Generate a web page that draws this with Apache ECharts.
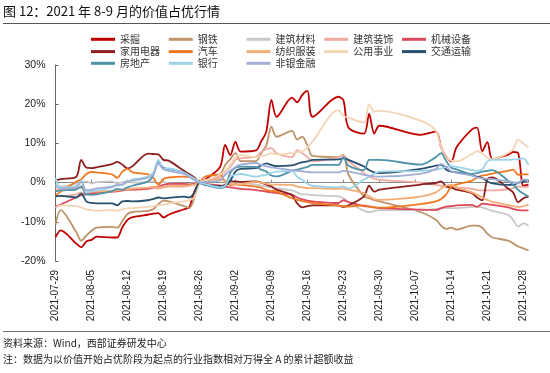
<!DOCTYPE html>
<html><head><meta charset="utf-8">
<script src="https://cdn.jsdelivr.net/npm/echarts@6/dist/echarts.min.js"></script>
<style>html,body{margin:0;padding:0;background:#fff}#c{width:550px;height:373px}</style>
</head><body><div id="c"></div>
<script>
// Trading dates
const dates = ['2021-07-29','2021-07-30','2021-08-02','2021-08-03','2021-08-04','2021-08-05','2021-08-06',
'2021-08-09','2021-08-10','2021-08-11','2021-08-12','2021-08-13','2021-08-16','2021-08-17','2021-08-18','2021-08-19','2021-08-20',
'2021-08-23','2021-08-24','2021-08-25','2021-08-26','2021-08-27','2021-08-30','2021-08-31','2021-09-01','2021-09-02','2021-09-03',
'2021-09-06','2021-09-07','2021-09-08','2021-09-09','2021-09-10','2021-09-13','2021-09-14','2021-09-15','2021-09-16','2021-09-17',
'2021-09-22','2021-09-23','2021-09-24','2021-09-27','2021-09-28','2021-09-29','2021-09-30','2021-10-08',
'2021-10-11','2021-10-12','2021-10-13','2021-10-14','2021-10-15','2021-10-18','2021-10-19','2021-10-20','2021-10-21','2021-10-22',
'2021-10-25','2021-10-26','2021-10-27','2021-10-28','2021-10-29'];

const seriesNames = ['采掘','钢铁','建筑材料','建筑装饰','机械设备','家用电器','汽车','纺织服装','公用事业','交通运输','房地产','银行','非银金融'];

const caijue = [-14.0,-12.2,-15.5,-16.5,-15.0,-14.6,-13.8,-14.0,-14.0,-11.4,-9.5,-8.8,-8.2,-7.9,-7.8,-8.9,-8.2,-6.8,-6.3,-2.3,0,
0.7,4.0,9.6,7.0,10.4,7.9,8.2,10.5,13.0,21.1,16.8,21.7,20.5,22.4,23.4,16.8,21.9,21.0,14.0,12.5,17.5,12.5,14.5,12.2,
13.0,9.0,6.6,5.4,9.0,13.6,14.0,8.0,10.3,6.0,7.1,7.8,7.5,-0.8,-0.5];
const gangtie = [-10.8,-7.0,-12.5,-14.8,-13.5,-12.3,-11.5,-11.3,-11.5,-9.8,-8.0,-7.5,-7.2,-6.8,-5.5,-4.6,-4.8,-6.0,-6.5,-4.0,0,
0.3,2.0,4.5,6.0,7.5,5.5,5.5,7.5,9.5,14.3,11.7,13.2,11.0,11.7,9.5,6.8,6.5,7.0,2.0,-3.5,-4.0,-4.5,-4.8,-7.5,
-9.5,-11.0,-11.8,-11.5,-12.0,-11.0,-11.0,-11.5,-13.0,-14.0,-14.8,-15.5,-16.3,-16.8,-17.3];
const jiancai = [-0.5,-1.0,-0.3,0.2,0.3,-0.2,0.1,0.3,-0.2,0.1,0.4,0.0,0.2,0.3,-0.3,0.1,-0.2,-0.4,-0.3,-0.2,0,
0.5,1.0,0.5,0.0,0.3,0.0,-0.5,-0.8,-1.0,-1.2,-1.5,-2.0,-2.5,-3.0,-3.0,-3.2,-3.5,-4.0,-5.0,-7.2,-7.5,-7.3,-7.0,-7.0,
-6.7,-6.6,-6.5,-6.5,-6.5,-6.2,-6.1,-6.3,-6.8,-7.2,-8.2,-9.5,-11.2,-10.4,-11.0];
const jianzhuang = [-3.3,-3.5,-3.0,-2.5,-2.7,-2.6,-2.4,-2.2,-2.3,-2.0,-1.8,-1.9,-1.6,-1.4,-1.5,-1.2,-1.0,-1.0,-0.8,-0.5,0,
0.5,1.5,2.8,4.0,5.8,6.2,6.6,7.8,8.5,8.8,7.5,6.5,8.3,7.5,6.5,5.4,6.5,7.0,5.5,2.4,1.5,1.0,0.7,0.0,
-0.6,-0.8,-1.0,-1.0,-1.2,-1.6,-1.9,-2.0,-2.0,-2.0,-1.7,-1.4,-1.0,-1.1,-1.2];
const jixie = [-6.2,-5.6,-3.8,-3.2,-3.0,-2.8,-2.6,-2.3,-2.2,-2.0,-1.8,-1.7,-1.5,-1.2,-1.0,-0.6,-0.3,-0.3,-0.5,-0.3,0,
-0.3,-0.7,-1.0,-1.2,-1.4,-1.6,-1.9,-2.1,-2.3,-2.5,-2.7,-3.1,-3.8,-4.3,-4.6,-4.8,-5.2,-4.5,-5.0,-6.0,-6.1,-6.3,-6.5,-6.9,
-7.0,-6.5,-6.1,-6.0,-5.8,-5.7,-6.2,-5.4,-5.5,-5.7,-6.3,-6.7,-7.0,-7.1,-7.1];
const jiadian = [0.6,0.9,1.4,5.8,3.8,3.7,3.9,4.7,5.3,4.6,3.6,4.2,7.4,7.3,7.2,5.8,5.6,3.0,2.2,1.3,0,
-0.5,-1.0,-0.5,0.3,0.3,0.2,0.3,0.0,-0.5,-1.0,-1.8,-3.2,-5.3,-6.3,-6.0,-5.8,-5.8,-6.2,-5.8,-3.5,-0.8,-2.3,-1.8,-0.5,
-0.1,0.3,-1.0,-1.3,-1.8,-2.7,-3.8,-4.5,0.8,1.3,-1.5,-2.5,-5.0,-4.0,-3.6];
const qiche = [-3.4,-2.3,0.2,0.8,2.2,2.7,2.6,2.1,1.2,2.8,3.5,2.6,2.1,1.2,-0.5,1.0,1.3,1.5,1.4,1.0,0,
1.5,2.0,0.2,-0.6,-0.4,-0.6,-1.0,-1.3,-1.9,-2.1,-2.3,-4.0,-4.4,-4.7,-5.0,-5.2,-5.9,-6.0,-6.1,-5.8,-6.1,-6.3,-6.4,-5.5,
-4.8,-4.2,-3.0,-1.0,-0.5,0.5,1.3,1.8,2.0,2.3,3.0,3.3,2.0,2.1,2.1];
const fangzhi = [-1.8,-2.0,-1.5,-1.3,-2.0,-2.2,-2.3,-2.2,-2.0,-1.8,-1.7,-1.5,-1.3,-1.1,-1.2,-1.0,-0.9,-0.8,-0.7,-0.5,0,
0.5,0.8,0.3,-0.3,-0.6,-0.4,0.2,0.0,-0.3,-0.5,-0.5,-0.6,-1.0,-1.2,-1.4,-1.4,-1.6,-1.5,-1.8,-2.7,-3.5,-4.2,-4.4,-3.6,
-2.5,-1.5,-0.8,-0.6,-1.2,-2.5,-3.1,-3.8,-4.4,-4.9,-5.7,-6.0,-6.2,-6.0,-5.7];
const gongyong = [-6.5,-5.8,-6.0,-6.3,-6.8,-7.0,-7.2,-7.0,-7.2,-6.8,-6.6,-6.5,-6.2,-6.0,-5.8,-5.6,-5.3,-4.8,-4.5,-3.8,0,
0.5,2.0,3.0,4.5,6.5,7.0,6.5,6.8,7.0,7.5,7.2,7.5,7.8,8.0,9.0,10.5,18.5,17.0,16.5,15.3,20.0,18.1,18.3,15.8,
13.2,9.0,6.5,5.6,5.4,7.3,8.0,7.5,6.2,6.0,7.5,8.5,10.9,10.0,9.0];
const jiaotong = [-3.5,-3.4,-3.8,-2.8,-4.8,-5.2,-5.3,-5.3,-5.8,-4.8,-4.7,-4.8,-4.5,-4.2,-3.8,-4.0,-3.9,-3.6,-3.8,-2.6,0,
-0.4,-1.0,-0.8,0.5,2.8,3.5,3.7,4.4,4.9,4.5,4.2,4.4,4.8,5.2,5.4,5.8,5.9,6.2,5.8,4.1,3.2,2.6,2.4,3.5,
4.3,4.6,3.3,2.8,2.6,1.9,1.5,1.2,0.3,-0.2,-0.6,-0.6,0.0,0.3,0.6];
const fangdichan = [-2.3,-2.0,-1.8,-1.0,-3.0,-3.1,-3.0,-2.2,-1.6,-1.8,-1.2,-0.8,0.3,1.8,5.2,3.8,3.5,2.6,1.8,0.8,0,
-0.5,-1.4,-1.0,2.5,3.8,4.1,4.0,3.3,2.8,1.8,1.6,3.0,3.3,3.6,4.0,4.5,4.5,6.5,4.3,3.2,5.8,5.8,5.8,4.6,
6.5,7.5,5.5,3.8,3.4,2.2,2.4,2.8,3.0,3.2,0.5,-0.5,-1.9,-2.8,-3.6];
const yinhang = [1.2,-1.2,-1.0,0.5,-2.5,-2.2,-2.0,-1.2,-0.8,-0.6,0.2,0.8,1.5,2.5,5.8,3.5,3.6,2.5,1.8,1.0,0,
-0.3,-1.2,-0.8,1.5,2.0,2.2,1.5,1.8,2.0,2.5,2.8,3.0,1.5,0.7,-0.3,-0.8,-1.2,-1.0,-1.5,0.8,1.5,2.3,2.8,3.0,
3.3,3.6,4.0,4.2,4.0,3.2,3.0,3.4,5.4,5.8,5.8,5.9,6.0,6.2,4.5];
const feiyin = [-1.0,-1.5,-1.2,0.2,-2.0,-1.8,-1.5,-1.0,-0.6,-0.5,0.3,0.5,1.2,2.0,4.8,3.4,3.0,2.2,1.5,0.6,0,
0.2,0.5,2.0,3.0,4.0,4.6,5.0,4.5,4.2,3.9,3.7,3.2,3.0,2.9,2.7,2.6,2.6,3.0,2.8,2.0,1.8,1.6,1.5,2.2,
3.5,4.8,4.0,2.9,2.5,1.8,1.3,1.1,1.0,0.9,0.3,0.1,-0.2,0.8,0.5];

const yTicks = [-20,-10,0,10,20,30];

const allValues = [caijue,gangtie,jiancai,jianzhuang,jixie,jiadian,qiche,fangzhi,gongyong,jiaotong,fangdichan,yinhang,feiyin];
const colors = ['#C00000','#BE9468','#C8C8C8','#F0AAA0','#DE4A5C','#8E1F1F','#F07820','#F5AD75','#F3D5B5','#27506E','#4E93A8','#9DD3E8','#A2AED6'];

const DAY = 86400000;
const base = Date.UTC(2021,6,29);
const off = dates.map(d => { const p = d.split('-'); return Math.round((Date.UTC(+p[0], +p[1]-1, +p[2]) - base) / DAY); });
const maxOff = off[off.length-1];

const fam = '"Liberation Sans", Arial, sans-serif';
const cjk = '"Noto Sans CJK SC", sans-serif';

const chart = echarts.init(document.getElementById('c'), null, {renderer:'canvas'});
const legendRows = [seriesNames.slice(0,5), seriesNames.slice(5,10), seriesNames.slice(10)];
const legendTops = [33.3, 45.6, 57.3];

chart.setOption({
  animation: false,
  backgroundColor: '#fff',
  title: {
    text: '图 12：2021 年 8-9 月的价值占优行情',
    left: 3, top: 5, padding: 0,
    textStyle: {fontSize: 13, fontWeight: 'normal', color: '#111', fontFamily: cjk}
  },
  legend: legendRows.map((row, r) => ({
    data: row, left: 91, top: legendTops[r], orient: 'horizontal',
    icon: 'rect', itemWidth: 24, itemHeight: 3, itemGap: 2.75, selectedMode: false,
    padding: 0,
    textStyle: {fontSize: 10, color: '#333', fontFamily: cjk, width: 46, lineHeight: 12}
  })),
  grid: {left: 55.5, right: 21.5, top: 65, bottom: 112, containLabel: false},
  xAxis: [{
    type: 'value', min: 0, max: maxOff, interval: 7, position: 'bottom',
    axisLine: {show: false, onZero: false}, axisTick: {show: false}, splitLine: {show: false},
    axisLabel: {rotate: 90, fontSize: 10, margin: 9, color: '#222', fontFamily: fam,
      formatter: v => (v % 7 === 0) ? new Date(base + v*DAY).toISOString().slice(0,10) : ''}
  }, {
    type: 'value', min: 0, max: maxOff, interval: 7, position: 'bottom',
    axisLine: {show: true, onZero: true, onZeroAxisIndex: 0, lineStyle: {color: '#8a8a8a', width: 1.2}},
    axisTick: {show: true, inside: true, length: 3, lineStyle: {color: '#8a8a8a'}},
    axisLabel: {show: false}, splitLine: {show: false}
  }],
  yAxis: {
    type: 'value', min: yTicks[0], max: yTicks[yTicks.length-1], interval: 10,
    axisLine: {show: true, lineStyle: {color: '#666', width: 1}},
    axisTick: {show: true, inside: true, length: 3, lineStyle: {color: '#666'}},
    splitLine: {show: false},
    axisLabel: {formatter: '{value}%', fontSize: 10.5, margin: 10, color: '#222', fontFamily: fam}
  },
  series: seriesNames.map((n, i) => ({
    name: n, type: 'line', xAxisIndex: 0, yAxisIndex: 0,
    data: allValues[i].map((v, j) => [off[j], v]),
    smooth: 0.3, symbol: 'none', showSymbol: false,
    lineStyle: {width: 1.8, color: colors[i]}, itemStyle: {color: colors[i]}
  })),
  graphic: [
    {type: 'line', shape: {x1: 3, y1: 23.5, x2: 550, y2: 23.5}, style: {stroke: '#555', lineWidth: 1.2}},
    {type: 'line', shape: {x1: 3, y1: 331.5, x2: 550, y2: 331.5}, style: {stroke: '#777', lineWidth: 1.2}},
    {type: 'text', left: 3, top: 338, style: {text: '资料来源：Wind，西部证券研发中心', font: '10px ' + cjk, fill: '#222'}},
    {type: 'text', left: 3, top: 354, style: {text: '注：数据为以价值开始占优阶段为起点的行业指数相对万得全 A 的累计超额收益', font: '10px ' + cjk, fill: '#222'}}
  ]
});
</script></body></html>
